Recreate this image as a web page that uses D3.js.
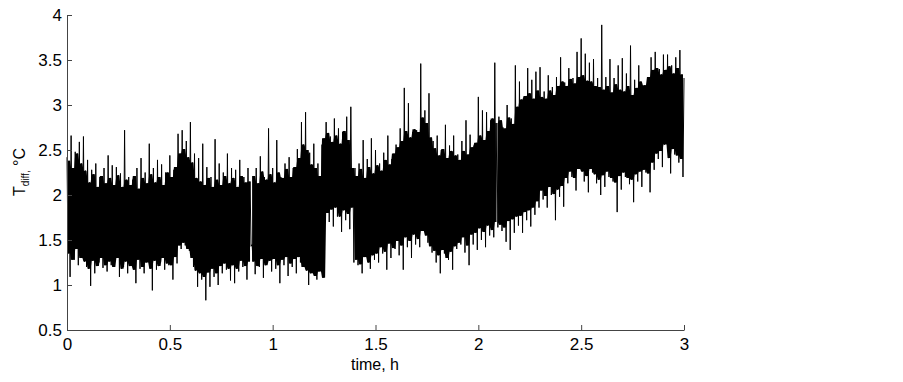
<!DOCTYPE html>
<html>
<head>
<meta charset="utf-8">
<script src="https://cdn.jsdelivr.net/npm/d3@7"></script>
<style>
  body { margin: 0; background: #fff; }
  text { font-family: "Liberation Sans", Arial, sans-serif; }
</style>
</head>
<body>
<svg id="chart" width="903" height="382"></svg>
<script>
// tick labels
const xTicks = [0, 0.5, 1, 1.5, 2, 2.5, 3];
const yTicks = [0.5, 1, 1.5, 2, 2.5, 3, 3.5, 4];

// signal, one block every 0.02 h:
// spike top (t), lower edge (t+0.005), upper edge (t+0.01), spike bottom (t+0.015)
const step = 0.02;
const peakValues = [
  2.42, 2.66, 2.48, 2.59, 2.65,  2.39, 2.28, 2.35, 2.20, 2.30,
  2.44, 2.33, 2.31, 2.24, 2.72,  2.20, 2.17, 2.30, 2.41, 2.25,
  2.57, 2.30, 2.39, 2.34, 2.25,  2.44, 2.28, 2.68, 2.72, 2.60,
  2.81, 2.46, 2.41, 2.57, 2.31,  2.20, 2.62, 2.35, 2.25, 2.46,
  2.30, 2.28, 2.39, 2.20, 2.30,  1.45, 2.30, 2.43, 2.20, 2.74,
  2.30, 2.61, 2.20, 2.35, 2.42,  2.30, 2.51, 2.81, 2.92, 2.47,
  2.57, 2.35, 2.56, 2.81, 2.65,  2.85, 2.74, 2.70, 2.87, 2.98,
  2.30, 2.35, 2.61, 2.40, 2.63,  2.50, 2.35, 2.47, 2.66, 2.40,
  2.56, 2.74, 3.19, 3.02, 2.70,  2.72, 3.46, 2.94, 3.13, 2.60,
  2.66, 2.50, 2.78, 2.55, 2.66,  2.45, 2.60, 2.83, 2.67, 2.55,
  3.09, 2.94, 2.92, 2.83, 3.47,  2.87, 2.75, 3.00, 2.85, 3.44,
  3.26, 3.05, 3.41, 3.28, 3.37,  3.42, 3.15, 3.33, 3.20, 3.31,
  3.53, 3.25, 3.41, 3.30, 3.59,  3.74, 3.57, 3.47, 3.51, 3.30,
  3.89, 3.31, 3.51, 3.30, 3.44,  3.52, 3.35, 3.66, 3.28, 3.44,
  3.20, 3.21, 3.53, 3.59, 3.40,  3.56, 3.56, 3.44, 3.53, 3.61,
  3.30
];
const lowerEdgeValues = [
  1.35, 1.28, 1.40, 1.30, 1.26,  1.18, 1.27, 1.21, 1.30, 1.22,
  1.26, 1.20, 1.30, 1.18, 1.26,  1.21, 1.17, 1.28, 1.20, 1.25,
  1.18, 1.27, 1.21, 1.30, 1.24,  1.22, 1.31, 1.44, 1.47, 1.40,
  1.30, 1.16, 1.13, 1.09, 1.14,  1.18, 1.13, 1.21, 1.24, 1.18,
  1.22, 1.18, 1.27, 1.21, 1.26,  1.26, 1.21, 1.29, 1.22, 1.27,
  1.29, 1.22, 1.28, 1.31, 1.24,  1.29, 1.31, 1.20, 1.16, 1.13,
  1.10, 1.15, 1.08, 1.80, 1.84,  1.86, 1.76, 1.83, 1.79, 1.86,
  1.28, 1.23, 1.31, 1.25, 1.33,  1.35, 1.42, 1.37, 1.46, 1.41,
  1.49, 1.44, 1.53, 1.49, 1.56,  1.51, 1.60, 1.55, 1.43, 1.38,
  1.33, 1.39, 1.30, 1.37, 1.43,  1.47, 1.53, 1.44, 1.56, 1.58,
  1.63, 1.59, 1.66, 1.61, 1.70,  1.67, 1.64, 1.71, 1.73, 1.76,
  1.77, 1.81, 1.83, 1.86, 1.93,  2.05, 1.99, 2.09, 2.01, 2.06,
  2.10, 2.19, 2.26, 2.19, 2.29,  2.26, 2.21, 2.29, 2.23, 2.17,
  2.22, 2.26, 2.19, 2.14, 2.21,  2.25, 2.19, 2.17, 2.23, 2.26,
  2.28, 2.24, 2.36, 2.46, 2.49,  2.56, 2.41, 2.51, 2.44, 2.40
];
const upperEdgeValues = [
  2.38, 2.30, 2.46, 2.35, 2.27,  2.14, 2.23, 2.09, 2.21, 2.13,
  2.19, 2.11, 2.22, 2.09, 2.17,  2.11, 2.21, 2.07, 2.19, 2.13,
  2.23, 2.14, 2.20, 2.11, 2.25,  2.20, 2.31, 2.46, 2.51, 2.42,
  2.36, 2.19, 2.15, 2.11, 2.19,  2.09, 2.17, 2.11, 2.21, 2.13,
  2.19, 2.09, 2.21, 2.14, 2.15,  2.21, 2.13, 2.26, 2.17, 2.23,
  2.14, 2.25, 2.19, 2.29, 2.20,  2.31, 2.41, 2.56, 2.50, 2.34,
  2.30, 2.21, 2.63, 2.69, 2.59,  2.66, 2.57, 2.71, 2.61, 2.30,
  2.21, 2.29, 2.19, 2.31, 2.24,  2.33, 2.27, 2.39, 2.34, 2.46,
  2.53, 2.60, 2.71, 2.64, 2.73,  2.70, 2.86, 2.80, 2.64, 2.52,
  2.44, 2.51, 2.41, 2.49, 2.44,  2.39, 2.49, 2.45, 2.53, 2.58,
  2.66, 2.61, 2.71, 2.85, 2.80,  2.83, 2.74, 2.86, 2.79, 2.98,
  3.06, 3.10, 3.13, 3.07, 3.16,  3.09, 3.07, 3.16, 3.11, 3.21,
  3.26, 3.21, 3.29, 3.24, 3.31,  3.33, 3.27, 3.26, 3.21, 3.20,
  3.17, 3.21, 3.14, 3.23, 3.17,  3.15, 3.21, 3.11, 3.19, 3.26,
  3.22, 3.31, 3.39, 3.41, 3.34,  3.39, 3.43, 3.35, 3.41, 3.34
];
const troughValues = [
  1.09, 1.28, 1.22, 1.48, 1.20,  0.99, 1.13, 1.25, 1.19, 1.15,
  1.22, 1.30, 1.09, 1.20, 1.13,  1.25, 1.02, 1.18, 1.13, 1.28,
  0.94, 1.17, 1.25, 1.17, 1.22,  1.06, 1.24, 1.40, 1.44, 1.38,
  1.20, 0.98, 1.06, 0.83, 0.98,  1.09, 1.00, 1.13, 1.17, 1.05,
  1.02, 1.15, 1.20, 1.06, 1.43,  1.12, 1.20, 1.08, 1.25, 1.15,
  1.18, 1.02, 1.22, 1.10, 1.20,  1.13, 1.25, 1.35, 1.00, 1.15,
  1.06, 1.17, 1.75, 1.70, 1.65,  1.76, 1.59, 1.72, 1.62, 1.25,
  1.22, 1.13, 1.31, 1.18, 1.28,  1.25, 1.35, 1.17, 1.30, 1.40,
  1.33, 1.17, 1.42, 1.30, 1.45,  1.42, 1.64, 1.47, 1.36, 1.25,
  1.13, 1.35, 1.28, 1.17, 1.40,  1.45, 1.36, 1.22, 1.45, 1.39,
  1.50, 1.42, 1.55, 1.53, 1.64,  1.60, 1.48, 1.39, 1.58, 1.66,
  1.58, 1.72, 1.65, 1.78, 1.86,  1.95, 1.86, 2.00, 1.72, 1.98,
  1.87, 2.13, 2.20, 2.05, 2.36,  2.15, 2.03, 2.25, 2.13, 2.00,
  2.09, 2.20, 2.15, 1.81, 2.06,  2.20, 2.12, 1.92, 2.15, 2.09,
  2.25, 2.03, 2.28, 2.40, 2.31,  2.57, 2.24, 2.45, 2.36, 2.20
];
// short breaks in the record, h
const gapTimes = [0.895, 2.09];

const svg = d3.select('#chart');

const xScale = d3.scaleLinear().domain([0, 3]).range([67, 684]);
const yScale = d3.scaleLinear().domain([0.5, 4]).range([330, 15]);

// put the four readings of each block back in time order
const signal = [];
const core = [];
peakValues.forEach((v, i) => {
    const t = i * step;
    signal.push({t: t, v: v});
    if (i < troughValues.length) {
        signal.push({t: t + step * 0.25, v: lowerEdgeValues[i]});
        signal.push({t: t + step * 0.5, v: upperEdgeValues[i]});
        signal.push({t: t + step * 0.75, v: troughValues[i]});
        [0, 0.25, 0.5, 0.75].forEach(f => {
            core.push({t: t + step * f, top: upperEdgeValues[i], bottom: lowerEdgeValues[i]});
        });
    }
});

const inGap = d => gapTimes.some(g => Math.abs(d.t - g) < 0.003);

// the dense part of the trace between its two edges
const area = d3.area()
    .defined(d => !inGap(d))
    .x(d => xScale(d.t))
    .y0(d => yScale(d.bottom))
    .y1(d => yScale(d.top));

svg.append('path')
    .datum(core)
    .attr('d', area)
    .attr('fill', '#000');

const line = d3.line()
    .x(d => xScale(d.t))
    .y(d => yScale(d.v));

svg.append('path')
    .datum(signal)
    .attr('d', line)
    .attr('fill', 'none')
    .attr('stroke', '#000')
    .attr('stroke-width', 1);

// axes, ticks pointing into the plot
const xAxis = d3.axisBottom(xScale)
    .tickValues(xTicks)
    .tickFormat(d => String(d))
    .tickSizeInner(-5)
    .tickSizeOuter(0)
    .tickPadding(8);

const yAxis = d3.axisLeft(yScale)
    .tickValues(yTicks)
    .tickFormat(d => String(d))
    .tickSizeInner(-5)
    .tickSizeOuter(0)
    .tickPadding(5);

const gx = svg.append('g').attr('transform', 'translate(0,330)').call(xAxis);
const gy = svg.append('g').attr('transform', 'translate(67,0)').call(yAxis);

[gx, gy].forEach(g => {
    g.selectAll('path, line').attr('stroke', '#444');
    g.selectAll('text')
        .attr('fill', '#000')
        .style('font-size', '17px');
});

svg.append('text')
    .attr('x', 375)
    .attr('y', 370)
    .attr('text-anchor', 'middle')
    .style('font-size', '16px')
    .text('time, h');

const yLabel = svg.append('text')
    .attr('transform', 'translate(25,172) rotate(-90)')
    .attr('text-anchor', 'middle')
    .style('font-size', '16px');
yLabel.append('tspan').text('T');
yLabel.append('tspan').attr('dy', 4).style('font-size', '10px').text('diff,');
yLabel.append('tspan').attr('dy', -4).text(' °C');
</script>
</body>
</html>
